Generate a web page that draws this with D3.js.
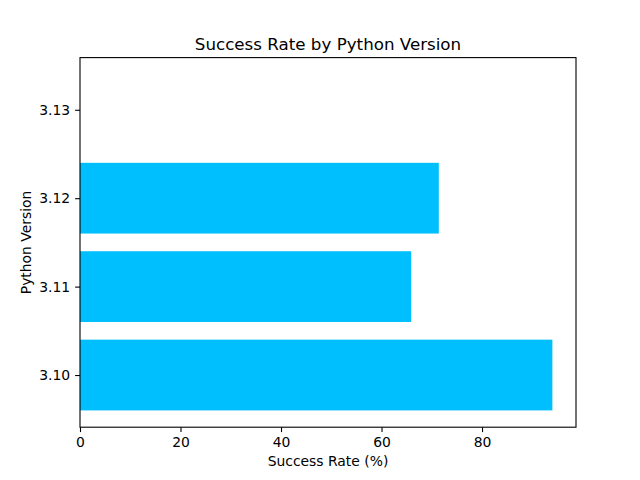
<!DOCTYPE html>
<html>
<head>
<meta charset="utf-8">
<script src="https://cdn.jsdelivr.net/npm/d3@7"></script>
<style>
  body { margin: 0; background: #fff; }
  svg { font-family: "DejaVu Sans", sans-serif; }
</style>
</head>
<body>
<svg id="chart" width="640" height="480"></svg>
<script>
// data
const versions = ['3.10', '3.11', '3.12', '3.13'];
const successRates = [94.0, 65.9, 71.4, 0];
const xTicks = [0, 20, 40, 60, 80];

const W = 640, H = 480;
const margin = { left: 80, right: 64, top: 57.6, bottom: 52.8 };
const plotW = W - margin.left - margin.right;
const plotH = H - margin.top - margin.bottom;

const svg = d3.select('#chart');
svg.append('rect').attr('width', W).attr('height', H).attr('fill', '#fff');
const g = svg.append('g').attr('transform', `translate(${margin.left},${margin.top})`);

// matplotlib-like autoscale: 5% margin
const xMax = d3.max(successRates) * 1.05;
const x = d3.scaleLinear().domain([0, xMax]).range([0, plotW]);

const barH = 0.8;
const n = versions.length;
const yLo = -barH / 2, yHi = (n - 1) + barH / 2;
const pad = (yHi - yLo) * 0.05;
const y = d3.scaleLinear().domain([yLo - pad, yHi + pad]).range([plotH, 0]);

// bars
g.selectAll('.bar')
  .data(successRates)
  .enter().append('rect')
  .attr('class', 'bar')
  .attr('x', x(0))
  .attr('y', (d, i) => y(i + barH / 2))
  .attr('width', d => x(d) - x(0))
  .attr('height', (d, i) => y(i - barH / 2) - y(i + barH / 2))
  .attr('fill', '#00bfff');

// axes
const tick = 4.9;
const xAxis = d3.axisBottom(x).tickValues(xTicks).tickFormat(d3.format('d')).tickSize(tick).tickPadding(tick);
const yAxis = d3.axisLeft(y).tickValues(d3.range(n)).tickFormat(i => versions[i]).tickSize(tick).tickPadding(tick);

const gx = g.append('g').attr('transform', `translate(0,${plotH})`).call(xAxis);
const gy = g.append('g').call(yAxis);
[gx, gy].forEach(a => {
  a.select('.domain').remove();
  a.selectAll('.tick line').attr('stroke', '#000').attr('stroke-width', 1.1);
  a.selectAll('.tick text').attr('fill', '#000').style('font-size', '13.9px').style('font-family', '"DejaVu Sans", sans-serif');
});

// frame
g.append('rect')
  .attr('width', plotW).attr('height', plotH)
  .attr('fill', 'none').attr('stroke', '#000').attr('stroke-width', 1.1);

// labels
svg.append('text')
  .attr('x', margin.left + plotW / 2).attr('y', margin.top - 8)
  .attr('text-anchor', 'middle')
  .style('font-size', '16.7px')
  .text('Success Rate by Python Version');

svg.append('text')
  .attr('x', margin.left + plotW / 2).attr('y', H - 14)
  .attr('text-anchor', 'middle')
  .style('font-size', '13.9px')
  .text('Success Rate (%)');

svg.append('text')
  .attr('transform', `translate(31,${margin.top + plotH / 2}) rotate(-90)`)
  .attr('text-anchor', 'middle')
  .style('font-size', '13.9px')
  .text('Python Version');
</script>
</body>
</html>
